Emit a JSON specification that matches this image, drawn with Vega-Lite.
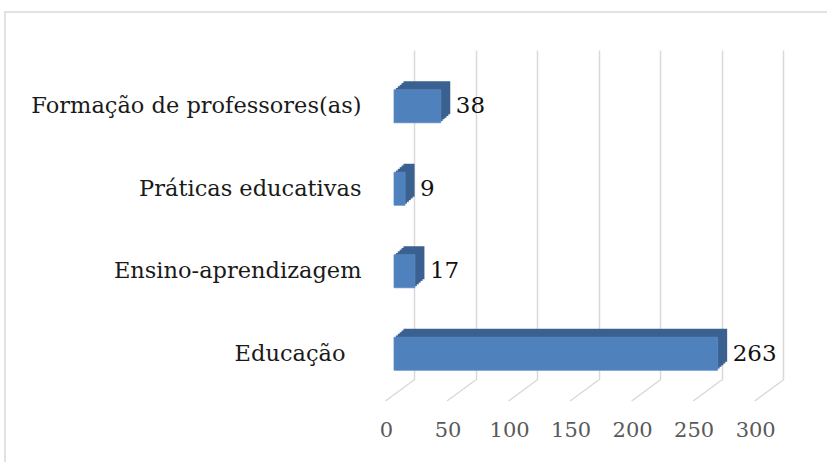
{
  "$schema": "https://vega.github.io/schema/vega-lite/v6.json",
  "autosize": {"type": "none"},
  "width": 369.2,
  "height": 330,
  "padding": {"left": 414, "top": 50, "right": 43.8, "bottom": 82},
  "background": "white",
  "config": {
    "view": {"stroke": null},
    "font": "DejaVu Serif"
  },
  "datasets": {
    "temas": [
      {"categoria": "Formação de professores(as)", "valor": 38},
      {"categoria": "Práticas educativas", "valor": 9},
      {"categoria": "Ensino-aprendizagem", "valor": 17},
      {"categoria": "Educação", "valor": 263}
    ],
    "grade": [{"v": 0}, {"v": 50}, {"v": 100}, {"v": 150}, {"v": 200}, {"v": 250}, {"v": 300}]
  },
  "layer": [
    {
      "data": {"values": [{}]},
      "mark": {"type": "rect", "x": -409, "x2": 600, "y": -38, "y2": 600, "fill": null, "stroke": "#d9d9d9", "strokeWidth": 1.5},
      "encoding": {}
    },
    {
      "data": {"name": "grade"},
      "mark": {"type": "rule", "color": "#d9d9d9", "strokeWidth": 1.5, "x2Offset": -28.5, "y2Offset": 21},
      "encoding": {
        "x": {
          "field": "v", "type": "quantitative",
          "scale": {"domain": [0, 300], "nice": false},
          "axis": {
            "grid": true, "gridColor": "#d9d9d9", "gridWidth": 1.5,
            "ticks": false, "domain": false, "title": null,
            "values": [0, 50, 100, 150, 200, 250, 300],
            "labelFont": "DejaVu Serif", "labelFontSize": 21, "labelColor": "#595959",
            "labelOffset": -28, "labelPadding": 50, "labelBaseline": "middle", "labelFlush": false
          }
        },
        "x2": {"field": "v"},
        "y": {"value": "height"},
        "y2": {"value": "height"}
      }
    },
    {
      "data": {"name": "temas"},
      "mark": {"type": "bar", "color": "#3a6190", "xOffset": -10.5, "x2Offset": -10.5, "yOffset": 6.5, "y2Offset": 6.5},
      "encoding": {
        "y": {
          "field": "categoria", "type": "nominal", "sort": null,
          "scale": {"paddingInner": 0.6, "paddingOuter": 0.3},
          "axis": {
            "grid": false, "ticks": false, "domain": false, "title": null,
            "labelFont": "DejaVu Serif", "labelFontSize": 22.5, "labelColor": "#1a1a1a",
            "labelPadding": {"condition": {"test": "datum.value === 'Educação'", "value": 69}, "value": 53},
            "labelOffset": 15, "labelLimit": 400
          }
        },
        "x": {"field": "valor", "type": "quantitative"}
      }
    },
    {
      "data": {"name": "temas"},
      "mark": {"type": "bar", "color": "#3a6190", "xOffset": -12.4, "x2Offset": -12.4, "yOffset": 8.2, "y2Offset": 8.2},
      "encoding": {
        "y": {"field": "categoria", "type": "nominal", "sort": null},
        "x": {"field": "valor", "type": "quantitative"}
      }
    },
    {
      "data": {"name": "temas"},
      "mark": {"type": "bar", "color": "#3a6190", "xOffset": -14.3, "x2Offset": -14.3, "yOffset": 9.9, "y2Offset": 9.9},
      "encoding": {
        "y": {"field": "categoria", "type": "nominal", "sort": null},
        "x": {"field": "valor", "type": "quantitative"}
      }
    },
    {
      "data": {"name": "temas"},
      "mark": {"type": "bar", "color": "#3a6190", "xOffset": -16.2, "x2Offset": -16.2, "yOffset": 11.6, "y2Offset": 11.6},
      "encoding": {
        "y": {"field": "categoria", "type": "nominal", "sort": null},
        "x": {"field": "valor", "type": "quantitative"}
      }
    },
    {
      "data": {"name": "temas"},
      "mark": {"type": "bar", "color": "#3a6190", "xOffset": -18.1, "x2Offset": -18.1, "yOffset": 13.3, "y2Offset": 13.3},
      "encoding": {
        "y": {"field": "categoria", "type": "nominal", "sort": null},
        "x": {"field": "valor", "type": "quantitative"}
      }
    },
    {
      "data": {"name": "temas"},
      "mark": {"type": "bar", "color": "#4f81bd", "stroke": "#5a8ac4", "strokeWidth": 0.8, "xOffset": -20, "x2Offset": -20, "yOffset": 15, "y2Offset": 15},
      "encoding": {
        "y": {"field": "categoria", "type": "nominal", "sort": null},
        "x": {"field": "valor", "type": "quantitative"}
      }
    },
    {
      "data": {"name": "temas"},
      "mark": {"type": "text", "align": "left", "baseline": "middle", "font": "DejaVu Serif", "fontSize": 23, "color": "#111111", "dx": -5, "yOffset": 15},
      "encoding": {
        "y": {"field": "categoria", "type": "nominal", "sort": null},
        "x": {"field": "valor", "type": "quantitative"},
        "text": {"field": "valor", "type": "quantitative"}
      }
    }
  ]
}
